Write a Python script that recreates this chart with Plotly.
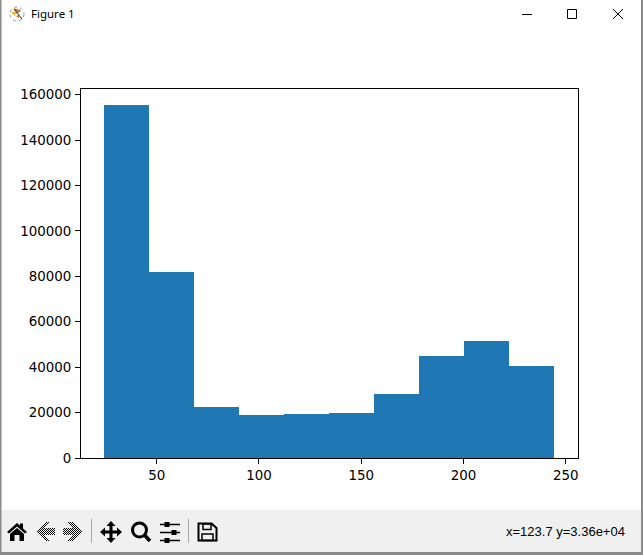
import plotly.graph_objects as go

# ---- data ----
bin_edges = [24.0, 46.05, 68.1, 90.15, 112.2, 134.25, 156.3, 178.35, 200.4, 222.45, 244.5]
counts = [155300, 81800, 22300, 18800, 19300, 19800, 28200, 44800, 51400, 40400]
x_ticks = [50, 100, 150, 200, 250]
y_ticks = [0, 20000, 40000, 60000, 80000, 100000, 120000, 140000, 160000]
window_title = "Figure 1"
status_text = "x=123.7 y=3.36e+04"

W, H = 643, 555
L, R, T, B = 81, 578, 89, 458


def px(x):
    return (x - L) / (R - L)


def py(y):
    return (B - y) / (B - T)


def path(points, close=True):
    s = "M " + " L ".join(f"{px(a):.5f},{py(b):.5f}" for a, b in points)
    return s + (" Z" if close else "")


shapes = []


def poly(points, fill="black", line=None, width=1, close=True):
    shapes.append(dict(type="path", xref="paper", yref="paper", path=path(points, close),
                       fillcolor=fill if close else "rgba(0,0,0,0)",
                       line=dict(color=line or "rgba(0,0,0,0)", width=width if line else 0),
                       layer="above"))


def rect(x0, y0, x1, y1, fill="black", line=None, width=1):
    shapes.append(dict(type="rect", xref="paper", yref="paper", x0=px(x0), x1=px(x1),
                       y0=py(y0), y1=py(y1), fillcolor=fill,
                       line=dict(color=line or "rgba(0,0,0,0)", width=width if line else 0),
                       layer="above"))


def ln(x0, y0, x1, y1, color="black", width=1):
    shapes.append(dict(type="line", xref="paper", yref="paper", x0=px(x0), x1=px(x1),
                       y0=py(y0), y1=py(y1), line=dict(color=color, width=width), layer="above"))


def checker_arrow(tip_x, direction):
    """Toolbar arrow icon drawn as a 1-pixel checker pattern, as in the Tk disabled look."""
    cy = 531
    parts = []
    for i in range(0, 19):          # distance from the tip
        for dy in range(-9, 10):
            a = abs(dy)
            in_head = a <= i and i - a <= 4
            in_shaft = a <= 3 and i >= 3
            if in_head or in_shaft:
                xx = tip_x + direction * i
                yy = cy + dy
                if (xx + yy) % 2 == 0:
                    parts.append(path([(xx, yy), (xx + 1, yy), (xx + 1, yy + 1), (xx, yy + 1)]))
    shapes.append(dict(type="path", xref="paper", yref="paper", path=" ".join(parts),
                       fillcolor="black", line=dict(width=0), layer="above"))


# toolbar band and window edge
rect(0, 510, W, 552, fill="#f0f0f0")
rect(0, 552, W, H, fill="#8a8a8a")
rect(0, 0, 1.5, H, fill="#8a8a8a")
rect(641, 0, W, H, fill="#8a8a8a")

# title bar buttons
ln(522, 14.5, 532, 14.5, width=1)
rect(567.5, 9.5, 576.5, 18.5, fill="rgba(0,0,0,0)", line="black", width=1)
ln(613, 9, 623, 19, width=1)
ln(623, 9, 613, 19, width=1)

# title bar icon
shapes.append(dict(type="circle", xref="paper", yref="paper", x0=px(10), x1=px(24), y0=py(7), y1=py(21),
                   fillcolor="rgba(0,0,0,0)", line=dict(color="#9a9a9a", width=1, dash="dot"), layer="above"))
poly([(14, 8), (19, 10), (17, 14)], fill="#e8641b")
poly([(11, 12), (16, 12), (15, 16)], fill="#e8b21b")
poly([(19, 9), (21, 11), (18, 13)], fill="#4a9a3a")
poly([(16, 16), (19, 15), (19, 18)], fill="#e8641b")
ln(14, 9, 22, 19, color="#5a4a3a", width=1.2)

# home
poly([(7, 532), (17, 523), (20, 525.5), (20, 523.5), (23, 523.5), (23, 528.5), (27, 532), (25, 533.5),
      (17, 526.5), (9, 533.5)])
poly([(10, 534), (17, 528), (24, 534), (24, 541), (19.5, 541), (19.5, 535), (14.5, 535), (14.5, 541), (10, 541)])

# back / forward
checker_arrow(36, 1)
checker_arrow(81, -1)

# separators
ln(91.5, 519, 91.5, 543, color="#a8a8a8")
ln(188.5, 519, 188.5, 543, color="#a8a8a8")

# move
ln(103, 532, 119, 532, width=3)
ln(111, 524, 111, 540, width=3)
poly([(100, 532), (105, 527.5), (105, 536.5)])
poly([(122, 532), (117, 527.5), (117, 536.5)])
poly([(111, 521), (106.5, 526), (115.5, 526)])
poly([(111, 543), (106.5, 538), (115.5, 538)])

# zoom
shapes.append(dict(type="circle", xref="paper", yref="paper", x0=px(132.5), x1=px(146.5), y0=py(523), y1=py(537),
                   fillcolor="rgba(0,0,0,0)", line=dict(color="black", width=3), layer="above"))
ln(144.5, 535, 150, 541, width=3.5)

# configure
for yy, xx in [(524.5, 167), (532.5, 174), (540.5, 167)]:
    ln(160, yy, 180, yy, width=1.5)
    rect(xx - 2.5, yy - 2.5, xx + 2.5, yy + 2.5)

# save
poly([(198.5, 523.5), (211.5, 523.5), (216.5, 528), (216.5, 540.5), (198.5, 540.5)],
     fill="rgba(0,0,0,0)", line="black", width=2)
rect(203, 524, 211, 529.5, fill="rgba(0,0,0,0)", line="black", width=1.5)
rect(202, 534, 213, 540.5, fill="rgba(0,0,0,0)", line="black", width=1.5)

annotations = [
    dict(text=window_title, x=px(28.5), y=py(14), xref="paper", yref="paper", xanchor="left", yanchor="middle",
         showarrow=False, font=dict(family="Noto Sans", size=11.5, color="black")),
    dict(text=status_text, x=px(627), y=py(531.5), xref="paper", yref="paper", xanchor="right", yanchor="middle",
         showarrow=False, font=dict(family="Liberation Sans", size=13, color="black")),
]

centers = [(a + b) / 2 for a, b in zip(bin_edges[:-1], bin_edges[1:])]
widths = [b - a for a, b in zip(bin_edges[:-1], bin_edges[1:])]

fig = go.Figure(go.Bar(x=centers, y=counts, width=widths, marker=dict(color="#1f77b4", line=dict(width=0)),
                       hoverinfo="skip"))

axis_style = dict(showgrid=False, zeroline=False, showline=True, mirror=True, linecolor="black", linewidth=1,
                  ticks="outside", ticklen=5, tickwidth=1, tickcolor="black",
                  tickfont=dict(family="DejaVu Sans", size=13.4, color="black"))
fig.update_layout(
    width=W, height=H, autosize=False,
    margin=dict(l=L, r=W - R, t=T, b=H - B, pad=0),
    paper_bgcolor="white", plot_bgcolor="white", showlegend=False,
    bargap=0,
    xaxis=dict(range=[13.0, 256.0], tickmode="array", tickvals=x_ticks, ticktext=[str(v) for v in x_ticks], **axis_style),
    yaxis=dict(range=[0, 162500], tickmode="array", tickvals=y_ticks, ticktext=[str(v) for v in y_ticks],
               ticklabelstandoff=1, **axis_style),
    shapes=shapes, annotations=annotations,
)

fig.write_html("out.html", config=dict(displayModeBar=False),
               post_script="document.body.style.margin='0';document.documentElement.style.overflow='hidden';")
